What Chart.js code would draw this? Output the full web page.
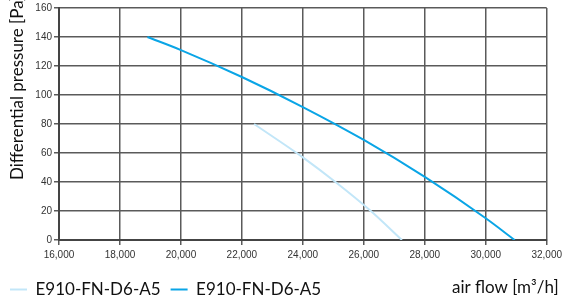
<!DOCTYPE html>
<html>
<head>
<meta charset="utf-8">
<script src="https://cdn.jsdelivr.net/npm/chart.js@4.4.0/dist/chart.umd.min.js"></script>
<style>
  html, body { margin: 0; padding: 0; background: #fff; }
  #wrap { width: 566px; height: 302px; }
</style>
</head>
<body>
<div id="wrap"><canvas id="mycanvas" width="566" height="302"></canvas></div>
<script>
// curve values
var seriesNames = ['E910-FN-D6-A5', 'E910-FN-D6-A5'];
var lightFlow = [22400, 24000, 25070, 26230, 27250];
var lightPressure = [80, 57, 40, 20, 0];
var darkFlow = [18900, 20000, 22000, 24000, 26000, 28000, 30000, 30950];
var darkPressure = [140, 131, 112.4, 91.7, 69, 43.5, 15, 0];
var xTicks = [16000, 18000, 20000, 22000, 24000, 26000, 28000, 30000, 32000];
var yTicks = [0, 20, 40, 60, 80, 100, 120, 140, 160];
var yTitle = 'Differential pressure [Pa]';
var xTitle = 'air flow [m\u00B3/h]';

function toPoints(xs, ys) {
  var pts = [];
  for (var i in xs) {
    pts.push({x: xs[i], y: ys[i]});
  }
  return pts;
}

var labelFont = 'Lato, "DejaVu Sans", sans-serif';

// axis titles sit outside the normal axis boxes, so they are painted here
var titlesPlugin = {
  id: 'titles',
  afterDraw: function(chart) {
    var ctx = chart.ctx;
    ctx.save();
    ctx.fillStyle = '#111';
    ctx.font = '17px ' + labelFont;
    ctx.textBaseline = 'middle';
    ctx.textAlign = 'left';
    ctx.fillText(xTitle, 452, 288);
    ctx.translate(18, 180);
    ctx.rotate(-Math.PI / 2);
    ctx.fillText(yTitle, 0, 0);
    ctx.restore();
  }
};

var chartdata = {
  datasets: [
    {
      label: seriesNames[0],
      data: toPoints(lightFlow, lightPressure),
      borderColor: '#c2e6f8',
      backgroundColor: '#c2e6f8',
      borderWidth: 2,
      pointRadius: 0,
      cubicInterpolationMode: 'monotone'
    },
    {
      label: seriesNames[1],
      data: toPoints(darkFlow, darkPressure),
      borderColor: '#0aa5e6',
      backgroundColor: '#0aa5e6',
      borderWidth: 2,
      pointRadius: 0,
      cubicInterpolationMode: 'monotone'
    }
  ]
};

var ctx = document.getElementById('mycanvas').getContext('2d');

var lineChart = new Chart(ctx, {
  type: 'line',
  data: chartdata,
  plugins: [titlesPlugin],
  options: {
    responsive: false,
    animation: false,
    layout: { padding: { left: 0, right: 17, top: 7, bottom: -6 } },
    plugins: {
      tooltip: { enabled: false },
      legend: {
        position: 'bottom',
        align: 'start',
        labels: {
          color: '#111',
          font: { family: labelFont, size: 17 },
          boxWidth: 17,
          boxHeight: 2,
          padding: 10,
          generateLabels: function(chart) {
            var items = Chart.defaults.plugins.legend.labels.generateLabels(chart);
            items.forEach(function(it) { it.lineWidth = 0; it.fillStyle = it.strokeStyle; });
            return items;
          }
        }
      }
    },
    scales: {
      x: {
        type: 'linear',
        min: 16000,
        max: 32000,
        afterBuildTicks: function(scale) {
          scale.ticks = xTicks.map(function(v) { return {value: v}; });
        },
        afterFit: function(scale) { scale.height = 31; },
        ticks: {
          color: '#333',
          font: { family: '"Liberation Sans", Arial, sans-serif', size: 10 },
          padding: 4,
          maxRotation: 0,
          callback: function(v) { return v.toLocaleString('en-US'); }
        },
        grid: { color: '#5a5a5a', lineWidth: 1.5, tickLength: 5 },
        border: { color: '#444', width: 2 }
      },
      y: {
        min: 0,
        max: 160,
        afterBuildTicks: function(scale) {
          scale.ticks = yTicks.map(function(v) { return {value: v}; });
        },
        afterFit: function(scale) { scale.width = 59; },
        ticks: {
          color: '#333',
          font: { family: '"Liberation Sans", Arial, sans-serif', size: 10 },
          padding: 2
        },
        grid: { color: '#5a5a5a', lineWidth: 1.5, tickLength: 5 },
        border: { color: '#444', width: 2 }
      }
    }
  }
});
</script>
</body>
</html>
